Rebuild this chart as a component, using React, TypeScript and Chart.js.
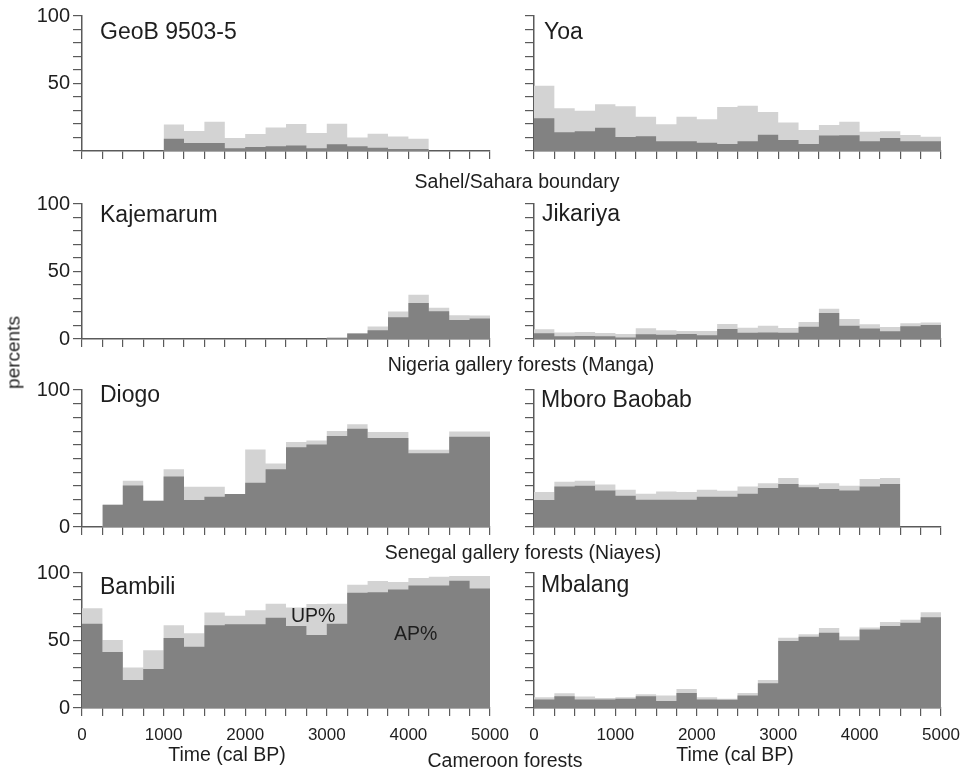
import React, { useEffect, useRef } from 'react';
import { Chart, registerables } from 'chart.js';

Chart.register(...registerables);

const FONT = '"Liberation Sans", Arial, Helvetica, sans-serif';
Chart.defaults.font.family = FONT;
Chart.defaults.color = '#1e1e1e';

// ---- categories: 250-year time bins (cal BP) ----
const BIN_STARTS = [0, 250, 500, 750, 1000, 1250, 1500, 1750, 2000, 2250, 2500, 2750, 3000, 3250, 3500, 3750, 4000, 4250, 4500, 4750];
const BIN_WIDTH = 250;
const X_TICK_LABELS = [0, 1000, 2000, 3000, 4000, 5000];

// ---- series values (AP% = arboreal pollen, UP% = non-arboreal stacked on top) ----
const GEOB_AP = [null, null, null, null, 9, 6, 6, 2, 3, 3.5, 4, 2, 5, 3.5, 2.5, 1.5, 1.5, null, null, null];
const GEOB_UP = [null, null, null, null, 10.7, 8.8, 15.7, 7.7, 9.6, 14, 16, 11.3, 15.2, 6.5, 10.3, 9.3, 7.6, null, null, null];

const YOA_AP = [24.2, 13.8, 14.6, 17.3, 10.4, 10.9, 7.2, 7.2, 6.2, 5.2, 7.2, 12.1, 8.1, 5.2, 11.4, 11.6, 7.2, 9.6, 7.2, 7.2];
const YOA_UP = [24.2, 17.8, 15.3, 17.3, 22.7, 14.5, 12.6, 18.2, 17.3, 27.4, 26.4, 16.8, 13.1, 10.4, 7.9, 10.1, 7.1, 5.0, 4.7, 3.4];

const KAJ_AP = [0, 0, 0, 0, 0, 0, 0, 0, 0, 0, 0, 0, 1, 4, 6.5, 16.1, 26.6, 20.6, 14.1, 15.1];
const KAJ_UP = [0, 0, 0, 0, 0, 0, 0, 0, 0, 0, 0, 0, 0, 0.2, 2.7, 4.2, 6.2, 2.5, 3.5, 2.3];

const JIK_AP = [4.2, 2.0, 2.2, 2.0, 1.2, 3.5, 3.2, 3.7, 2.7, 7.4, 4.7, 4.9, 4.7, 9.1, 19.3, 9.9, 7.7, 5.7, 9.4, 10.4];
const JIK_UP = [3.0, 2.9, 3.0, 2.4, 2.5, 4.4, 3.2, 2.2, 3.2, 3.7, 3.7, 5.0, 3.4, 3.5, 3.2, 4.9, 3.2, 3.2, 2.2, 1.9];

const DIOGO_AP = [null, 16.3, 30.3, 19.2, 36.9, 19.7, 22.1, 24.0, 32.3, 42.2, 58.3, 60.2, 66.5, 71.8, 65.0, 65.0, 53.9, 53.9, 65.8, 65.8];
const DIOGO_UP = [null, 0, 3.4, 0, 5.3, 9.7, 7.3, 0, 24.3, 4.2, 3.8, 2.9, 3.6, 3.2, 4.4, 4.4, 2.4, 2.4, 3.9, 3.9];

const MBORO_AP = [19.7, 29.6, 30.1, 26.7, 22.8, 19.9, 19.9, 19.9, 22.1, 22.1, 24.3, 28.4, 31.3, 29.1, 27.7, 26.7, 29.6, 31.3, null, null];
const MBORO_UP = [5.8, 3.4, 3.6, 4.4, 4.4, 4.4, 6.1, 5.6, 5.1, 4.4, 5.3, 3.6, 4.4, 1.7, 4.3, 3.4, 5.4, 4.4, null, null];

const BAMBILI_AP = [62.5, 41.5, 20.8, 28.8, 51.8, 45.3, 61.3, 62.0, 62.0, 66.8, 60.8, 54.0, 62.5, 85.3, 85.8, 87.8, 90.8, 90.8, 94.3, 88.5];
const BAMBILI_UP = [11.3, 8.8, 9.2, 14.0, 9.5, 10.0, 9.5, 6.3, 10.5, 10.5, 13.7, 23.0, 14.8, 6.0, 8.2, 5.5, 5.5, 6.5, 3.5, 9.3];

const MBALANG_AP = [6.3, 8.7, 6.3, 6.3, 6.8, 8.7, 5.1, 11.1, 6.3, 6.1, 9.2, 18.4, 49.6, 52.8, 55.7, 50.1, 58.1, 60.8, 63.2, 67.3];
const MBALANG_UP = [1.7, 2.2, 2.2, 1.2, 1.2, 1.5, 4.1, 2.9, 1.7, 0.7, 1.9, 2.4, 2.5, 1.9, 3.6, 2.9, 1.5, 2.9, 2.2, 3.6];

// ---- styles / layout ----
const AP_COLOR = '#828282';
const UP_COLOR = '#d3d3d3';
const AXIS_COLOR = '#5a5a5a';
const TEXT_COLOR = '#1e1e1e';

const COLS = [
  { canvasLeft: 0, canvasWidth: 520, chartLeft: 82, chartRight: 490, yW: 60 },
  { canvasLeft: 490, canvasWidth: 470, chartLeft: 534, chartRight: 941, yW: 24 },
];
const ROWS = [
  { top: 16, bottom: 151 },
  { top: 204, bottom: 339 },
  { top: 390, bottom: 527 },
  { top: 573, bottom: 708 },
];
const PAD_TOP = 14;
const PAD_BOTTOM = 4;

type Series = (number | null)[];
interface Note { text: string; x: number; y: number; size: number }
interface PanelSpec {
  name: string;
  ap: Series;
  up: Series;
  col: number;
  row: number;
  yLabels: number[];
  showX: boolean;
  notes: Note[];
}

const PANELS: PanelSpec[] = [
  { name: 'GeoB 9503-5', ap: GEOB_AP, up: GEOB_UP, col: 0, row: 0, yLabels: [50, 100], showX: false,
    notes: [{ text: 'GeoB 9503-5', x: 100, y: 39, size: 23 }] },
  { name: 'Yoa', ap: YOA_AP, up: YOA_UP, col: 1, row: 0, yLabels: [], showX: false,
    notes: [{ text: 'Yoa', x: 544, y: 39, size: 23 }] },
  { name: 'Kajemarum', ap: KAJ_AP, up: KAJ_UP, col: 0, row: 1, yLabels: [0, 50, 100], showX: false,
    notes: [{ text: 'Kajemarum', x: 100, y: 222, size: 23 }] },
  { name: 'Jikariya', ap: JIK_AP, up: JIK_UP, col: 1, row: 1, yLabels: [], showX: false,
    notes: [{ text: 'Jikariya', x: 542, y: 221, size: 23 }] },
  { name: 'Diogo', ap: DIOGO_AP, up: DIOGO_UP, col: 0, row: 2, yLabels: [0, 100], showX: false,
    notes: [{ text: 'Diogo', x: 100, y: 402, size: 23 }] },
  { name: 'Mboro Baobab', ap: MBORO_AP, up: MBORO_UP, col: 1, row: 2, yLabels: [], showX: false,
    notes: [{ text: 'Mboro Baobab', x: 541, y: 407, size: 23 }] },
  { name: 'Bambili', ap: BAMBILI_AP, up: BAMBILI_UP, col: 0, row: 3, yLabels: [0, 50, 100], showX: true,
    notes: [
      { text: 'Bambili', x: 100, y: 594, size: 23 },
      { text: 'UP%', x: 291, y: 622, size: 19.5 },
      { text: 'AP%', x: 394, y: 640, size: 19.5 },
    ] },
  { name: 'Mbalang', ap: MBALANG_AP, up: MBALANG_UP, col: 1, row: 3, yLabels: [], showX: true,
    notes: [{ text: 'Mbalang', x: 541, y: 592, size: 23 }] },
];

function stepPoints(vals: Series) {
  const pts: { x: number; y: number | null }[] = [];
  vals.forEach((v, i) => {
    const start = BIN_STARTS[i];
    if (v === null) {
      pts.push({ x: start + BIN_WIDTH / 2, y: null });
    } else {
      pts.push({ x: start, y: v }, { x: start + BIN_WIDTH, y: v });
    }
  });
  return pts;
}

function Panel({ spec }: { spec: PanelSpec }) {
  const ref = useRef<HTMLCanvasElement>(null);
  const col = COLS[spec.col];
  const row = ROWS[spec.row];
  const xH = spec.showX ? 40 : 12;
  const canvasTop = row.top - PAD_TOP;
  const canvasHeight = PAD_TOP + (row.bottom - row.top) + xH + PAD_BOTTOM;

  useEffect(() => {
    if (!ref.current) return;
    const totals = spec.ap.map((a, i) => {
      const u = spec.up[i];
      return a === null || u === null ? null : a + u;
    });
    const notesPlugin = {
      id: 'panelNotes',
      afterDraw(chart: any) {
        const ctx = chart.ctx;
        ctx.save();
        ctx.fillStyle = TEXT_COLOR;
        ctx.textBaseline = 'alphabetic';
        ctx.textAlign = 'left';
        spec.notes.forEach((n) => {
          ctx.font = `${n.size}px ${FONT}`;
          ctx.fillText(n.text, n.x - col.canvasLeft, n.y - canvasTop);
        });
        ctx.restore();
      },
    };
    const chart = new Chart(ref.current, {
      type: 'line',
      data: {
        datasets: [
          {
            label: 'AP%',
            data: stepPoints(spec.ap) as any,
            backgroundColor: AP_COLOR,
            borderColor: 'rgba(0,0,0,0)',
            borderWidth: 0,
            pointRadius: 0,
            fill: 'origin',
            spanGaps: false,
            tension: 0,
            order: 0,
          },
          {
            label: 'UP%',
            data: stepPoints(totals) as any,
            backgroundColor: UP_COLOR,
            borderColor: 'rgba(0,0,0,0)',
            borderWidth: 0,
            pointRadius: 0,
            fill: 'origin',
            spanGaps: false,
            tension: 0,
            order: 1,
          },
        ],
      },
      options: {
        animation: false,
        responsive: false,
        events: [],
        layout: {
          padding: {
            top: PAD_TOP,
            bottom: PAD_BOTTOM,
            left: col.chartLeft - col.canvasLeft - col.yW,
            right: col.canvasLeft + col.canvasWidth - col.chartRight,
          },
        },
        plugins: { legend: { display: false }, tooltip: { enabled: false } },
        scales: {
          x: {
            type: 'linear',
            min: 0,
            max: 5000,
            offset: false,
            ticks: {
              stepSize: BIN_WIDTH,
              autoSkip: false,
              maxRotation: 0,
              minRotation: 0,
              maxTicksLimit: 100,
              padding: 9,
              color: TEXT_COLOR,
              font: { size: 17, family: FONT },
              callback: (v: any) => (spec.showX && X_TICK_LABELS.includes(Number(v)) ? String(v) : ''),
            },
            grid: { display: true, drawOnChartArea: false, drawTicks: true, tickLength: 8, color: AXIS_COLOR, lineWidth: 1.2 },
            border: { display: true, color: AXIS_COLOR, width: 1.5 },
            afterFit: (s: any) => {
              s.height = xH;
              s.paddingLeft = 0;
              s.paddingRight = 0;
            },
          },
          y: {
            type: 'linear',
            min: 0,
            max: 100,
            ticks: {
              stepSize: 10,
              autoSkip: false,
              maxTicksLimit: 100,
              padding: 3,
              color: TEXT_COLOR,
              font: { size: 20, family: FONT },
              callback: (v: any) => (spec.yLabels.includes(Number(v)) ? String(v) : ''),
            },
            grid: { display: true, drawOnChartArea: false, drawTicks: true, tickLength: 9, color: AXIS_COLOR, lineWidth: 1.2 },
            border: { display: true, color: AXIS_COLOR, width: 1.5 },
            afterFit: (s: any) => {
              s.width = col.yW;
              s.paddingTop = 0;
              s.paddingBottom = 0;
            },
          },
        },
      } as any,
      plugins: [notesPlugin],
    });
    return () => chart.destroy();
  }, []);

  return (
    <canvas
      ref={ref}
      width={col.canvasWidth}
      height={canvasHeight}
      style={{ position: 'absolute', left: col.canvasLeft, top: canvasTop, width: col.canvasWidth, height: canvasHeight }}
    />
  );
}

function TextLabel({ text, cx, baseline, size }: { text: string; cx: number; baseline: number; size: number }) {
  return (
    <div
      style={{
        position: 'absolute',
        left: cx - 300,
        width: 600,
        top: baseline - 0.8465 * size,
        fontSize: size,
        lineHeight: `${size}px`,
        fontFamily: FONT,
        color: TEXT_COLOR,
        textAlign: 'center',
        whiteSpace: 'nowrap',
      }}
    >
      {text}
    </div>
  );
}

export default function App() {
  return (
    <div style={{ position: 'absolute', left: 0, top: 0, width: 960, height: 772, background: '#fff', overflow: 'hidden' }}>
      {PANELS.map((p) => (
        <Panel key={p.name} spec={p} />
      ))}
      <TextLabel text="Sahel/Sahara boundary" cx={517} baseline={189} size={19.5} />
      <TextLabel text="Nigeria gallery forests (Manga)" cx={521} baseline={372} size={19.5} />
      <TextLabel text="Senegal gallery forests (Niayes)" cx={523} baseline={560} size={19.5} />
      <TextLabel text="Cameroon forests" cx={505} baseline={768} size={19.5} />
      <TextLabel text="Time (cal BP)" cx={227} baseline={762} size={19.5} />
      <TextLabel text="Time (cal BP)" cx={735} baseline={762} size={19.5} />
      <div
        style={{
          position: 'absolute',
          left: 12.5 - 100,
          top: 352 - 9.5,
          width: 200,
          height: 19,
          lineHeight: '19px',
          fontSize: 19,
          fontFamily: FONT,
          color: TEXT_COLOR,
          textAlign: 'center',
          transform: 'rotate(-90deg)',
          transformOrigin: 'center',
          whiteSpace: 'nowrap',
        }}
      >
        percents
      </div>
    </div>
  );
}
